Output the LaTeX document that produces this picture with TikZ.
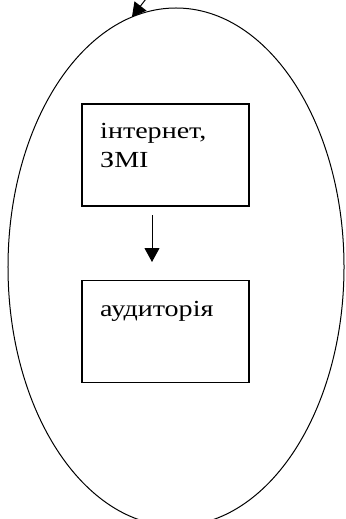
\documentclass[tikz,border=0pt]{standalone}
\usepackage{fontspec}
\newfontfamily\tnr[FakeStretch=1.22]{Liberation Serif}
\usetikzlibrary{shapes.geometric,arrows.meta}
\begin{document}
\begin{tikzpicture}[x=1bp,y=-1bp,
  box/.style={draw,line width=1.3bp,minimum width=167bp,minimum height=102bp,inner sep=0,outer sep=0},
  lbl/.style={anchor=base west,inner sep=0,font=\tnr\fontsize{23bp}{29bp}\selectfont},
  arr/.style={line width=1bp,-{Triangle[length=14bp,width=15bp]}}]
\useasboundingbox (0,0) rectangle (345,519);
\node[draw,ellipse,line width=1bp,minimum width=336bp,minimum height=518bp,inner sep=0,outer sep=0] (oval) at (176,267) {};
\node[box] (b1) at (165.5,155) {};
\node[box] (b2) at (165.5,331.5) {};
\node[lbl] (t1) at (100,139) {інтернет,};
\node[lbl] (t2) at (100,168) {ЗМІ};
\node[lbl] (t3) at (100,316) {аудиторія};
\coordinate (s) at (149,-5);
\coordinate (m1) at (152,215);
\coordinate (m2) at (152,262);
\draw[arr] (s) -- (oval.100.6);
\draw[arr] (m1) -- (m2);
\end{tikzpicture}
\end{document}
